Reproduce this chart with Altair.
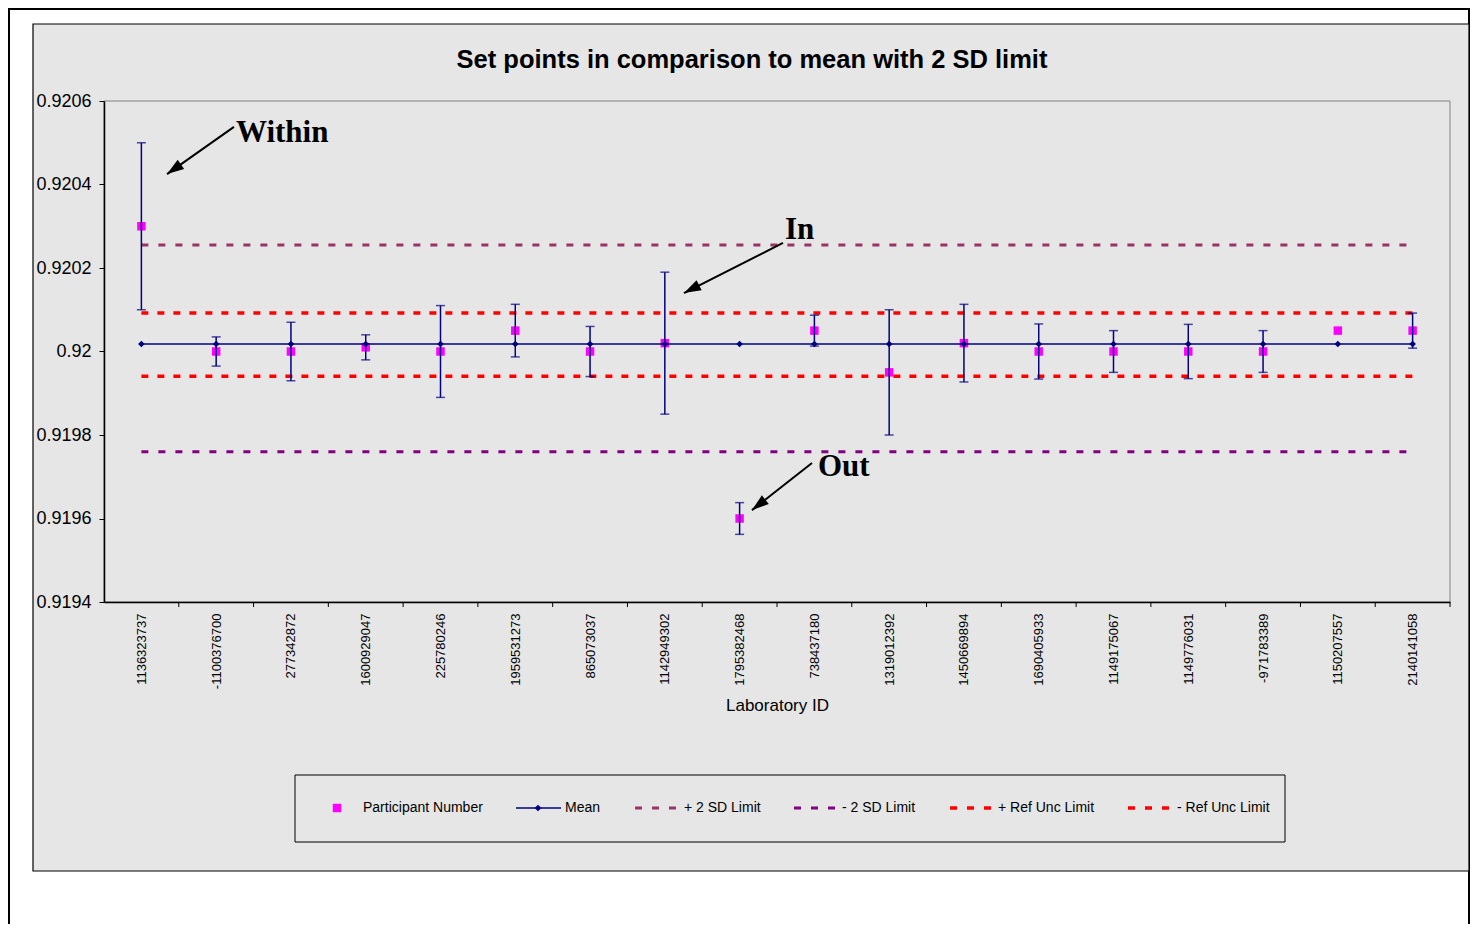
import altair as alt
import pandas as pd

# ---------------- data ----------------
labs = ["1136323737", "-1100376700", "277342872", "1600929047", "225780246",
        "1959531273", "865073037", "1142949302", "1795382468", "738437180",
        "1319012392", "1450669894", "1690405933", "1149175067", "1149776031",
        "-971783389", "1150207557", "2140141058"]
participant = [0.92030, 0.92000, 0.92000, 0.92001, 0.92000, 0.92005, 0.92000,
               0.92002, 0.91960, 0.92005, 0.91995, 0.92002, 0.92000, 0.92000,
               0.92000, 0.92000, 0.92005, 0.92005]
half_range = [0.00020, 0.000035, 0.00007, 0.00003, 0.00011, 0.000063, 0.00006,
              0.00017, 0.000038, 0.000037, 0.00015, 0.000093, 0.000066, 0.00005,
              0.000065, 0.00005, 0.0, 0.000042]
mean_value = 0.920018
plus_2sd = 0.920255
minus_2sd = 0.919760
plus_ref = 0.920092
minus_ref = 0.919941
y_ticks = [0.9194, 0.9196, 0.9198, 0.9200, 0.9202, 0.9204, 0.9206]

# annotations (x in category units, y in data units)
notes = ["Within", "In", "Out"]
note_x = [1.765, 9.107, 9.548]
note_y = [0.920523, 0.920291, 0.919723]
arrow_x0 = [1.738, 9.080, 9.468]
arrow_y0 = [0.920538, 0.920260, 0.919733]
arrow_x1 = [0.8425, 7.756, 8.665]
arrow_y1 = [0.920425, 0.920140, 0.919620]
arrow_angle = [235, 243, 232]

W, H = 1346, 501
SANS = "Liberation Sans"
SERIF = "Liberation Serif"
NAVY = "#000080"
MAGENTA = "#FF00FF"
MAROON = "#993366"
PURPLE = "#800080"
RED = "#FF0000"
BG = "#e6e6e6"

df = pd.DataFrame({"lab": labs, "value": participant, "half": half_range})
df["lo"] = df["value"] - df["half"]
df["hi"] = df["value"] + df["half"]
df["mean"] = mean_value
df["p2sd"] = plus_2sd
df["m2sd"] = minus_2sd
df["pref"] = plus_ref
df["mref"] = minus_ref
err = df[df["half"] > 0]

ann = pd.DataFrame({"note": notes, "nx": note_x, "ny": note_y,
                    "x0": arrow_x0, "y0": arrow_y0, "x1": arrow_x1,
                    "y1": arrow_y1, "ang": arrow_angle})
bounds = pd.DataFrame({"b": list(range(1, len(labs) + 1))})

# ---------------- scales / axes ----------------
xscale = alt.Scale(domain=labs, type="point", padding=0.5)
xaxis = alt.Axis(labelAngle=270, ticks=False, tickSize=0, labelPadding=11,
                 labelFontSize=13, labelFont=SANS, labelColor="black",
                 domainColor="black", domainWidth=1.5, grid=False,
                 labelOverlap=False, title="Laboratory ID", titleFontSize=17,
                 titleFont=SANS, titleFontWeight="normal", titleColor="black",
                 titlePadding=9, zindex=1)
yscale = alt.Scale(domain=[0.9194, 0.9206], nice=False, zero=False)
yaxis = alt.Axis(values=y_ticks, format=".4~f", tickSize=5, tickColor="black",
                 tickWidth=1, labelFontSize=18, labelFont=SANS,
                 labelColor="black", labelPadding=8, domainColor="black",
                 domainWidth=1.5, grid=False, title="", zindex=1)
qscale = alt.Scale(domain=[0, len(labs)], nice=False, zero=False)


def X():
    return alt.X("lab:N", scale=xscale, axis=xaxis)


def Y(f):
    return alt.Y(f, type="quantitative", scale=yscale, axis=yaxis)


def Q(f):
    return alt.X(f, type="quantitative", scale=qscale, axis=None)


one = alt.Data(values=[{}])
base = alt.Chart(df)

# ---------------- background decorations ----------------
frame = alt.Chart(one).mark_rect(fill="white", stroke="black", strokeWidth=2).encode(
    x=alt.value(-95), x2=alt.value(1365), y=alt.value(-92), y2=alt.value(840))
area = alt.Chart(one).mark_rect(fill=BG, stroke="black", strokeWidth=1.2).encode(
    x=alt.value(-71), x2=alt.value(1365), y=alt.value(-77), y2=alt.value(770))
plotbg = alt.Chart(one).mark_rect(fill=BG, stroke="#808080", strokeWidth=1).encode(
    x=alt.value(0), x2=alt.value(W), y=alt.value(0), y2=alt.value(H))

# ---------------- data layers ----------------
def limit_line(field, color, width, dash):
    return base.mark_line(color=color, strokeWidth=width, strokeDash=dash).encode(
        x=X(), y=Y(field))

l_p2sd = limit_line("p2sd", MAROON, 3, [7, 10])
l_m2sd = limit_line("m2sd", PURPLE, 3, [7, 10])
l_pref = limit_line("pref", RED, 3.5, [7, 9])
l_mref = limit_line("mref", RED, 3.5, [7, 9])

squares = base.mark_point(shape="square", filled=True, color=MAGENTA, size=72,
                          opacity=1).encode(x=X(), y=Y("value"))
bars = alt.Chart(err).mark_rule(color=NAVY, strokeWidth=1.5).encode(
    x=X(), y=Y("lo"), y2="hi")
cap_lo = alt.Chart(err).mark_tick(color=NAVY, thickness=1.5, size=9).encode(
    x=X(), y=Y("lo"))
cap_hi = alt.Chart(err).mark_tick(color=NAVY, thickness=1.5, size=9).encode(
    x=X(), y=Y("hi"))
mean_line = base.mark_line(color=NAVY, strokeWidth=1.5).encode(x=X(), y=Y("mean"))
mean_pts = base.mark_point(shape="diamond", filled=True, color=NAVY, size=45,
                           opacity=1).encode(x=X(), y=Y("mean"))

nominal = alt.layer(l_p2sd, l_m2sd, l_pref, l_mref, squares, bars, cap_lo,
                    cap_hi, mean_line, mean_pts)

# ---------------- category boundary ticks + annotations ----------------
bticks = alt.Chart(bounds).mark_rule(color="black", strokeWidth=1).encode(
    x=Q("b"), y=alt.value(H), y2=alt.value(H + 5))
atext = alt.Chart(ann).mark_text(font=SERIF, fontSize=31, fontWeight="bold",
                                 align="left", baseline="middle",
                                 color="black").encode(
    x=Q("nx"), y=Y("ny"), text="note:N")
alines = alt.Chart(ann).mark_rule(color="black", strokeWidth=2).encode(
    x=Q("x0"), y=Y("y0"), x2="x1", y2="y1")
aheads = alt.Chart(ann).mark_point(shape="M0,0L-0.33,1L0.33,1Z", filled=True,
                                   color="black", size=1156, opacity=1).encode(
    x=Q("x1"), y=Y("y1"), angle=alt.Angle("ang:Q", scale=None))

quant = alt.layer(bticks, alines, aheads, atext)

# ---------------- title ----------------
title = alt.Chart(one).mark_text(font=SANS, fontSize=25.5, fontWeight="bold",
                                 color="black", align="center",
                                 baseline="middle").encode(
    x=alt.value(648), y=alt.value(-41),
    text=alt.value("Set points in comparison to mean with 2 SD limit"))

# ---------------- manual legend ----------------
LY = 707
leg_box = alt.Chart(one).mark_rect(fill=BG, stroke="black", strokeWidth=1).encode(
    x=alt.value(191), x2=alt.value(1181), y=alt.value(674), y2=alt.value(741))
leg_layers = [leg_box]
leg_layers.append(alt.Chart(one).mark_point(shape="square", filled=True,
                                            color=MAGENTA, size=72, opacity=1).encode(
    x=alt.value(233), y=alt.value(LY)))
leg_layers.append(alt.Chart(one).mark_rule(color=NAVY, strokeWidth=1.5).encode(
    x=alt.value(412), x2=alt.value(457), y=alt.value(LY)))
leg_layers.append(alt.Chart(one).mark_point(shape="diamond", filled=True,
                                            color=NAVY, size=45, opacity=1).encode(
    x=alt.value(434), y=alt.value(LY)))
for x0, color, width in [(531, MAROON, 3), (690, PURPLE, 3), (846, RED, 3.5),
                         (1024, RED, 3.5)]:
    leg_layers.append(alt.Chart(one).mark_rule(color=color, strokeWidth=width,
                                               strokeDash=[7, 10]).encode(
        x=alt.value(x0), x2=alt.value(x0 + 41), y=alt.value(LY)))
for tx, label in [(259, "Participant Number"), (461, "Mean"),
                  (580, "+ 2 SD Limit"), (738, "- 2 SD Limit"),
                  (894, "+ Ref Unc Limit"), (1073, "- Ref Unc Limit")]:
    leg_layers.append(alt.Chart(one).mark_text(font=SANS, fontSize=14,
                                               color="black", align="left",
                                               baseline="middle").encode(
        x=alt.value(tx), y=alt.value(LY), text=alt.value(label)))

chart = alt.layer(
    frame, area, plotbg, nominal, quant, title, *leg_layers
).resolve_scale(x="independent").properties(
    width=W, height=H,
    autosize=alt.AutoSizeParams(type="none"),
    padding={"left": 96, "top": 93, "right": 20, "bottom": 322},
).configure(background="white").configure_view(stroke=None)

chart.save("out.html", embed_options={"renderer": "svg", "actions": False})
